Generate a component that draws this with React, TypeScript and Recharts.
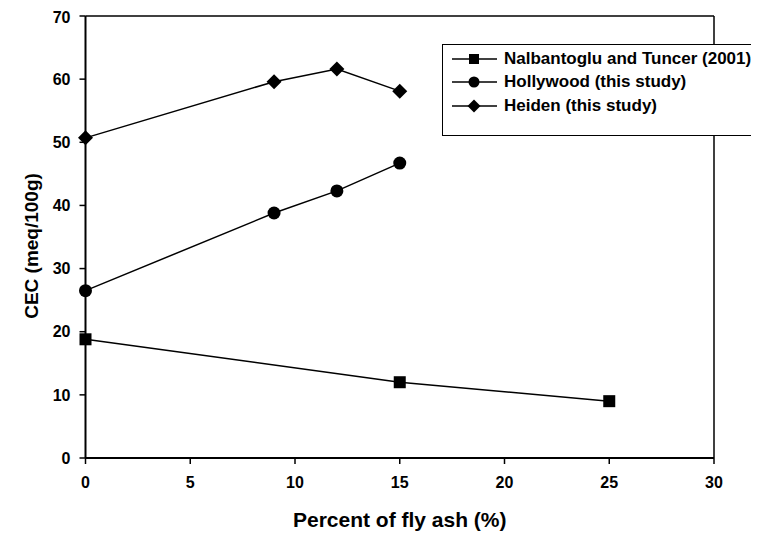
import React from 'react';
import { LineChart, Line, XAxis, YAxis, ReferenceLine, Label } from 'recharts';

// CEC values (meq/100g) against fly ash content (%)
const nalbantogluX = [0, 15, 25];
const nalbantogluY = [18.8, 12.0, 9.0];
const hollywoodX = [0, 9, 12, 15];
const hollywoodY = [26.5, 38.8, 42.3, 46.7];
const heidenX = [0, 9, 12, 15];
const heidenY = [50.7, 59.6, 61.6, 58.1];

const xTicks = [0, 5, 10, 15, 20, 25, 30];
const yTicks = [0, 10, 20, 30, 40, 50, 60, 70];

const seriesNames = ['Nalbantoglu and Tuncer (2001)', 'Hollywood (this study)', 'Heiden (this study)'];

const toPoints = (xs: number[], ys: number[]) => xs.map((x, i) => ({ x, y: ys[i] }));

const nalbantoglu = toPoints(nalbantogluX, nalbantogluY);
const hollywood = toPoints(hollywoodX, hollywoodY);
const heiden = toPoints(heidenX, heidenY);

const FONT = 'Liberation Sans, Arial, sans-serif';

const SquareDot = ({ cx, cy, s = 6 }: any) => <rect x={cx - s} y={cy - s} width={s * 2} height={s * 2} fill="#000" />;
const CircleDot = ({ cx, cy, s = 6.5 }: any) => <circle cx={cx} cy={cy} r={s} fill="#000" />;
const DiamondDot = ({ cx, cy, s = 7.5 }: any) => (
  <polygon points={`${cx},${cy - s} ${cx + s},${cy} ${cx},${cy + s} ${cx - s},${cy}`} fill="#000" />
);

const markers = [SquareDot, CircleDot, DiamondDot];
const legendSizes = [5, 5.5, 6.5];

// legend sits over the top-right corner of the plot frame
const LegendBox = () => (
  <div
    style={{
      position: 'absolute',
      left: 434,
      top: 36,
      width: 316,
      height: 92,
      border: '1.5px solid #000',
      background: '#fff',
      boxSizing: 'border-box',
      paddingTop: 2,
      fontFamily: FONT,
      fontWeight: 'bold',
      fontSize: 17,
    }}
  >
    {seriesNames.map((name, i) => {
      const Marker = markers[i];
      return (
        <div key={name} style={{ display: 'flex', alignItems: 'center', height: 23.5 }}>
          <svg width={52} height={20} style={{ marginLeft: 9, flexShrink: 0 }}>
            <line x1={0} y1={10} x2={45} y2={10} stroke="#000" strokeWidth={1.5} />
            <Marker cx={22} cy={10} s={legendSizes[i]} />
          </svg>
          <span style={{ whiteSpace: 'nowrap' }}>{name}</span>
        </div>
      );
    })}
  </div>
);

const YTitle = ({ viewBox }: any) => {
  const x = viewBox.x + 23;
  const y = viewBox.y + viewBox.height / 2 + 9;
  return (
    <text
      x={x}
      y={y}
      transform={`rotate(-90, ${x}, ${y})`}
      textAnchor="middle"
      dominantBaseline="central"
      fontFamily={FONT}
      fontWeight="bold"
      fontSize={19}
      fill="#000"
    >
      CEC (meq/100g)
    </text>
  );
};

export default function App() {
  const tickStyle = { fontFamily: FONT, fontWeight: 'bold', fontSize: 16, fill: '#000' };
  return (
    <div style={{ position: 'relative', width: 751, height: 527 }}>
      <LineChart width={751} height={527} margin={{ top: 8, right: 45, bottom: 47, left: 0 }}>
        <XAxis
          dataKey="x"
          type="number"
          domain={[0, 30]}
          ticks={xTicks}
          allowDuplicatedCategory={false}
          height={30}
          tick={tickStyle}
          tickSize={6}
          tickMargin={13}
          axisLine={{ stroke: '#000', strokeWidth: 2 }}
          tickLine={{ stroke: '#000', strokeWidth: 1.5 }}
        >
          <Label
            value="Percent of fly ash (%)"
            position="bottom"
            offset={24}
            style={{ fontFamily: FONT, fontWeight: 'bold', fontSize: 21, fill: '#000' }}
          />
        </XAxis>
        <YAxis
          dataKey="y"
          type="number"
          domain={[0, 70]}
          ticks={yTicks}
          width={77.5}
          tick={tickStyle}
          tickSize={6}
          tickMargin={9}
          axisLine={{ stroke: '#000', strokeWidth: 2 }}
          tickLine={{ stroke: '#000', strokeWidth: 1.5 }}
          label={{ content: YTitle }}
        />
        <ReferenceLine y={70} stroke="#000" strokeWidth={1.5} />
        <ReferenceLine x={30} stroke="#000" strokeWidth={1.5} />
        <Line data={nalbantoglu} dataKey="y" name={seriesNames[0]} stroke="#000" strokeWidth={1.5} dot={<SquareDot />} activeDot={false} isAnimationActive={false} />
        <Line data={hollywood} dataKey="y" name={seriesNames[1]} stroke="#000" strokeWidth={1.5} dot={<CircleDot />} activeDot={false} isAnimationActive={false} />
        <Line data={heiden} dataKey="y" name={seriesNames[2]} stroke="#000" strokeWidth={1.5} dot={<DiamondDot />} activeDot={false} isAnimationActive={false} />
      </LineChart>
      <LegendBox />
    </div>
  );
}
